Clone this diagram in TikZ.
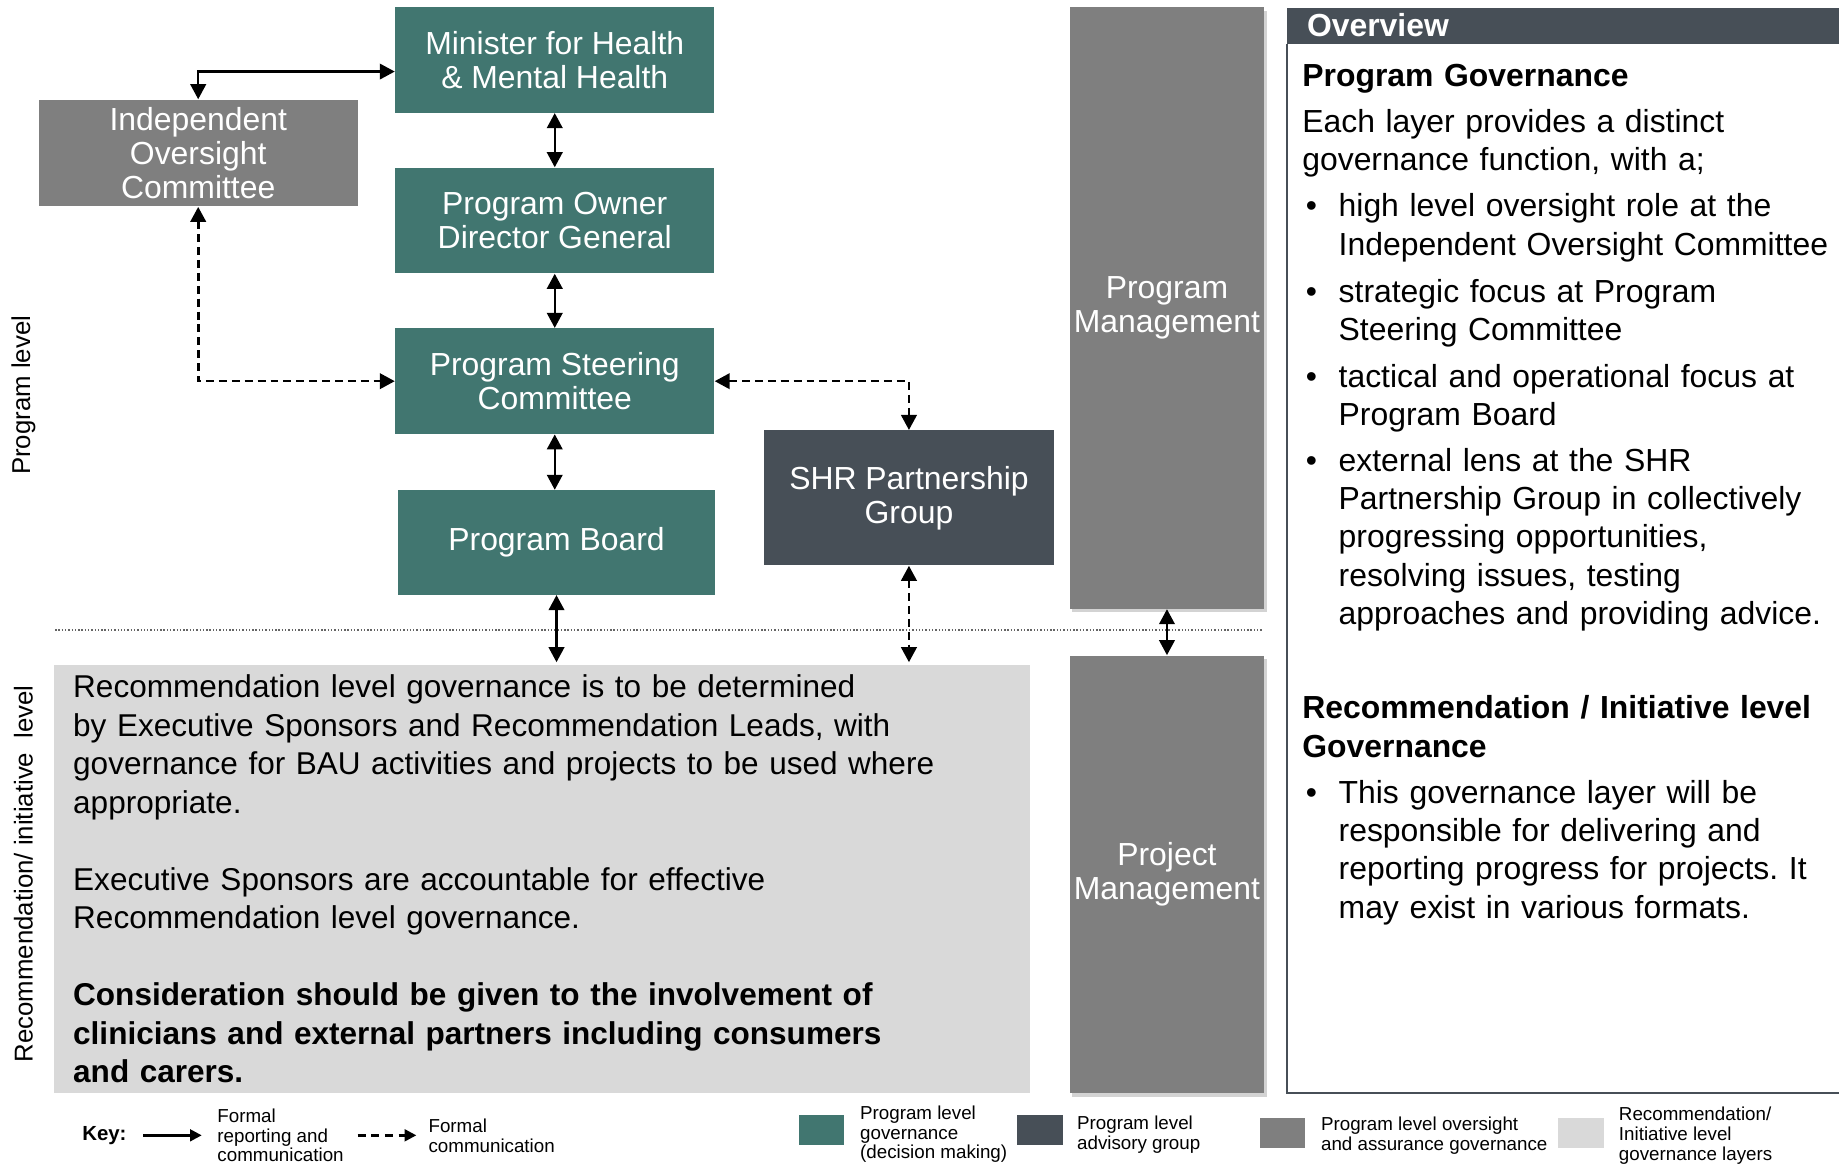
\documentclass[tikz,border=0pt]{standalone}
\usepackage{fontspec}
\setmainfont{Liberation Sans}
\usetikzlibrary{arrows.meta,shadows}
\definecolor{cTeal}{RGB}{65,118,112}
\definecolor{cSlate}{RGB}{71,79,87}
\definecolor{cGray}{RGB}{127,127,127}
\definecolor{cLight}{RGB}{217,217,217}
\begin{document}
\frenchspacing
\begin{tikzpicture}[x=0.5pt,y=-0.5pt,
  box/.style={inner sep=0pt, align=center, text=white, font=\frenchspacing\fontsize{13.6}{14.5}\selectfont},
  govbox/.style={box, fill=cTeal, minimum width=136pt, minimum height=45pt},
  oversightbox/.style={box, fill=cGray},
  advbox/.style={box, fill=cSlate},
  mgmtbox/.style={box, fill=cGray, minimum width=83pt, drop shadow={shadow xshift=1pt, shadow yshift=-1.5pt, opacity=0.35}},
  tip/.tip={Triangle[length=6.4pt,width=6.6pt]},
  link/.style={line width=1pt, tip-tip},
  dlink/.style={link, line width=1.1pt, dash pattern=on 3.4pt off 2.1pt},
  ovtext/.style={inner sep=0pt, text width=240pt, align=left, font=\frenchspacing\fontsize{13.6}{16.3}\selectfont},
  bul/.style={inner sep=0pt, font=\fontsize{13.6}{16.3}\selectfont},
  rectext/.style={inner sep=0pt, text width=420pt, align=left, font=\frenchspacing\fontsize{13.45}{16.4}\selectfont},
  legtext/.style={inner sep=0pt, align=left, font=\fontsize{8}{8.5}\selectfont},
  swatch/.style={inner sep=0pt, minimum width=19.5pt, minimum height=12.8pt},
  sidelabel/.style={inner sep=0pt, rotate=90, font=\fontsize{11}{12}\selectfont},
  legarrow/.style={line width=1.1pt, -{Triangle[length=5pt,width=5pt]}}
]
\useasboundingbox (0,0) rectangle (1568,993);

% dotted separator
\draw[cGray!80!black, line width=0.6pt, dash pattern=on 0.6pt off 0.8pt] (47,537) -- (1077,537);

% boxes
\node[govbox] (min) at (473,51) {Minister for Health\\\& Mental Health};
\node[oversightbox, minimum width=136pt, minimum height=45.5pt] (ioc) at (169,130.5) {Independent\\Oversight\\Committee};
\node[govbox] (own) at (473,188) {Program Owner\\Director General};
\node[govbox] (stc) at (473,325) {Program Steering\\Committee};
\node[govbox, minimum width=135.5pt, minimum height=44.5pt] (brd) at (474.5,462.5) {Program Board};
\node[advbox, minimum width=124pt, minimum height=57.5pt] (shr) at (775,424.5) {SHR Partnership\\Group};
\node[mgmtbox, minimum height=256.5pt] (pgm) at (995,262.5) {Program\\Management};
\node[mgmtbox, minimum height=186.5pt] (prj) at (995,745.5) {Project\\Management};
\node[fill=cLight, inner sep=0pt, minimum width=416pt, minimum height=182.5pt] (rec) at (462,749.5) {};

% connectors
\draw[link] (ioc.north) |- ([yshift=-5pt]min.west);
\draw[link] (min.south) -- (own.north);
\draw[link] (own.south) -- (stc.north);
\draw[link] (stc.south) -- (stc.south |- brd.north);
\draw[dlink] (ioc.south) |- (stc.west);
\draw[dlink] (stc.east) -| (shr.north);
\draw[link] (brd.south) -- ([yshift=1pt]brd.south |- rec.north);
\draw[dlink] (shr.south) -- ([yshift=1pt]shr.south |- rec.north);
\draw[link] (pgm.south) -- (prj.north);

% recommendation text
\node[rectext, anchor=base west] (rt) at (62,595) {Recommendation level governance is to be determined\\by Executive Sponsors and Recommendation Leads, with\\governance for BAU activities and projects to be used where\\appropriate.\\[16.4pt]Executive Sponsors are accountable for effective\\Recommendation level governance.\\[16.4pt]\bfseries Consideration should be given to the involvement of\\clinicians and external partners including consumers\\and carers.};

% side labels
\node[sidelabel] (lp) at (20,337) {Program level};
\node[sidelabel] (lr) at (20,745) {Recommendation/ initiative\ \ level};

% overview panel
\node[fill=cSlate, inner sep=0pt, minimum width=240pt, minimum height=15.5pt, anchor=north west] (ovh) at (1097,6) {};
\draw[cSlate, line width=0.9pt] (ovh.south west) -- (1097,932) -- (1580,932);
\node[inner sep=0pt, anchor=base west, text=white, font=\bfseries\fontsize{13.6}{16}\selectfont] (ovt) at (1114,31) {Overview};

\node[ovtext, anchor=base west] (pg) at (1110,74) {\bfseries Program Governance};
\node[ovtext, anchor=base west] (pg1) at (1110,113) {Each layer provides a distinct\\governance function, with a;};
\node[bul, anchor=base west] (b1) at (1113,185) {•};
\node[ovtext, anchor=base west] (t1) at (1141,185) {high level oversight role at the\\Independent Oversight Committee};
\node[bul, anchor=base west] (b2) at (1113,258) {•};
\node[ovtext, anchor=base west] (t2) at (1141,258) {strategic focus at Program\\Steering Committee};
\node[bul, anchor=base west] (b3) at (1113,330) {•};
\node[ovtext, anchor=base west] (t3) at (1141,330) {tactical and operational focus at\\Program Board};
\node[bul, anchor=base west] (b4) at (1113,402) {•};
\node[ovtext, anchor=base west] (t4) at (1141,402) {external lens at the SHR\\Partnership Group in collectively\\progressing opportunities,\\resolving issues, testing\\approaches and providing advice.};
\node[ovtext, anchor=base west] (rg) at (1110,613) {\bfseries Recommendation / Initiative level\\Governance};
\node[bul, anchor=base west] (b5) at (1113,685) {•};
\node[ovtext, anchor=base west] (t5) at (1141,685) {This governance layer will be\\responsible for delivering and\\reporting progress for projects. It\\may exist in various formats.};

% legend
\node[inner sep=0pt, font=\bfseries\fontsize{8.7}{9}\selectfont] (key) at (89,968) {Key:};
\coordinate (ka1) at (122,968);
\coordinate (ka2) at (172,968);
\draw[legarrow] (ka1) -- (ka2);
\node[legtext, anchor=west] (k1) at (185,968) {Formal\\reporting and\\communication};
\coordinate (kb1) at (305,968);
\coordinate (kb2) at (355,968);
\draw[legarrow, dash pattern=on 3.4pt off 2.4pt] (kb1) -- (kb2);
\node[legtext, anchor=west] (k2) at (365,968) {Formal\\communication};
\node[swatch, fill=cTeal] (s1) at (700.5,963.5) {};
\node[legtext, anchor=west] (k3) at (733,967) {Program level\\governance\\(decision making)};
\node[swatch, fill=cSlate] (s2) at (887,963.5) {};
\node[legtext, anchor=west] (k4) at (918,967.5) {Program level\\advisory group};
\node[swatch, fill=cGray] (s3) at (1093.5,966) {};
\node[legtext, anchor=west] (k5) at (1126,968.5) {Program level oversight\\and assurance governance};
\node[swatch, fill=cLight] (s4) at (1348,966) {};
\node[legtext, anchor=west] (k6) at (1380,968) {Recommendation/\\Initiative level\\governance layers};
\end{tikzpicture}
\end{document}
